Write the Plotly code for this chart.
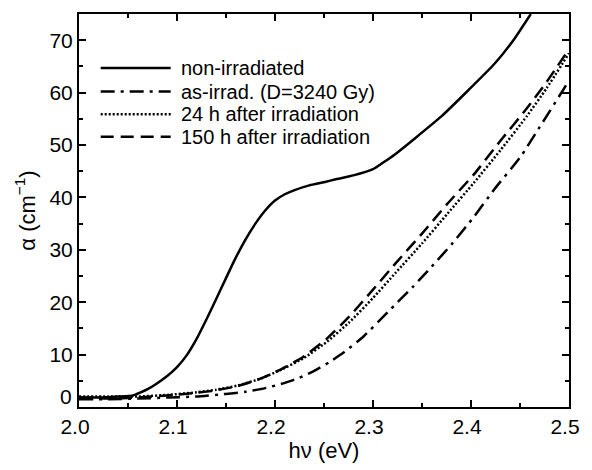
import plotly.graph_objects as go

# ---- data ----
x_non = [2.0, 2.02, 2.04, 2.055, 2.063, 2.07, 2.078, 2.09, 2.10, 2.11, 2.12, 2.13,
         2.14, 2.15, 2.16, 2.17, 2.18, 2.19, 2.20, 2.21, 2.22, 2.235,
         2.25, 2.263, 2.28, 2.30, 2.31, 2.323, 2.343, 2.37, 2.397, 2.424, 2.444, 2.461]
y_non = [1.8, 1.8, 2.0, 2.2, 2.8, 3.4, 4.3, 5.9, 7.6, 9.9, 13.0, 16.7,
         20.6, 24.6, 28.5, 32.0, 35.0, 37.5, 39.4, 40.6, 41.4, 42.3,
         42.9, 43.5, 44.2, 45.4, 46.6, 48.3, 51.3, 55.5, 60.4, 65.5, 70.2, 75.0]

x_as = [2.0, 2.03, 2.06, 2.09, 2.12, 2.15, 2.17, 2.19, 2.21, 2.225, 2.24, 2.255,
        2.27, 2.29, 2.316, 2.34, 2.356, 2.38, 2.403, 2.424, 2.45, 2.47, 2.494, 2.5]
y_as = [1.5, 1.5, 1.6, 1.8, 2.0, 2.5, 2.9, 3.6, 4.6, 5.6, 6.9, 8.5,
        10.4, 13.4, 18.3, 22.8, 26.0, 31.0, 36.3, 41.6, 47.6, 53.4, 60.5, 62.3]

x_24 = [2.0, 2.03, 2.06, 2.09, 2.12, 2.14, 2.162, 2.185, 2.205, 2.229, 2.252, 2.276,
        2.30, 2.323, 2.35, 2.376, 2.403, 2.43, 2.457, 2.477, 2.5]
y_24 = [2.0, 2.0, 2.0, 2.3, 2.8, 3.3, 4.1, 5.4, 7.0, 9.3, 12.3, 16.2,
        20.8, 25.6, 31.2, 36.9, 42.8, 49.0, 55.5, 60.8, 67.5]

x_150 = [2.0, 2.03, 2.06, 2.09, 2.12, 2.14, 2.162, 2.185, 2.205, 2.229, 2.252, 2.276,
         2.30, 2.323, 2.35, 2.376, 2.403, 2.43, 2.457, 2.477, 2.5]
y_150 = [1.8, 1.6, 1.8, 2.2, 2.7, 3.2, 4.0, 5.4, 7.1, 9.6, 12.9, 17.3,
         22.4, 27.4, 33.1, 38.8, 44.4, 50.8, 57.0, 62.0, 68.3]

labels = ["non-irradiated", "as-irrad. (D=3240 Gy)",
          "24 h after irradiation", "150 h after irradiation"]
dashes = ["solid", "14px,6px,3px,6px", "2px,2px", "13px,7px"]
x_ticks = [2.0, 2.1, 2.2, 2.3, 2.4, 2.5]
y_ticks = [10, 20, 30, 40, 50, 60, 70]

FONT = "Liberation Sans, Arial, sans-serif"
W, H = 592, 470
ML, MR, MT, MB = 79, 16, 13, 57

fig = go.Figure()
for xs, ys, name, dash in zip([x_non, x_as, x_24, x_150],
                              [y_non, y_as, y_24, y_150], labels, dashes):
    fig.add_trace(go.Scatter(x=xs, y=ys, mode="lines", name=name,
                             line=dict(color="black", width=2.5, dash=dash,
                                       shape="spline", smoothing=0.5),
                             showlegend=False))

# manual legend (paper coordinates)
pw, ph = W - ML - MR, H - MT - MB
def px_x(p):
    return (p - ML) / pw
def px_y(p):
    return 1 - (p - MT) / ph

rows = [68, 92, 115, 138]
for r, name, dash in zip(rows, labels, dashes):
    fig.add_shape(type="line", xref="paper", yref="paper",
                  x0=px_x(101), x1=px_x(172), y0=px_y(r), y1=px_y(r),
                  line=dict(color="black", width=2.5, dash=dash))
    fig.add_annotation(xref="paper", yref="paper", x=px_x(180), y=px_y(r),
                       text=name, showarrow=False, xanchor="left", yanchor="middle",
                       font=dict(family=FONT, size=20, color="black"))

# raised "0" label at the origin
fig.add_annotation(xref="paper", yref="y", x=0, y=0, text="0", showarrow=False,
                   xanchor="right", yanchor="middle", xshift=-5, yshift=11,
                   font=dict(family=FONT, size=21, color="black"))

axis_common = dict(showline=True, linecolor="black", linewidth=2, mirror="allticks",
                   ticks="inside", ticklen=7, tickwidth=1.5, tickcolor="black",
                   showgrid=False, zeroline=False,
                   tickfont=dict(family=FONT, size=21, color="black"))

fig.update_xaxes(range=[2.0, 2.5], tickvals=x_ticks, tickformat=".1f",
                 ticklabelshift=-4,
                 minor=dict(dtick=0.05, tick0=2.0, ticks="inside", ticklen=4,
                            tickwidth=1.5, tickcolor="black"),
                 title=dict(text="hν (eV)", font=dict(family=FONT, size=22, color="black"),
                            standoff=4),
                 **axis_common)
fig.update_yaxes(range=[0, 75], tickvals=y_ticks,
                 minor=dict(dtick=5, tick0=0, ticks="inside", ticklen=4,
                            tickwidth=1.5, tickcolor="black"),
                 title=dict(text="α (cm<sup>−1</sup>)",
                            font=dict(family=FONT, size=22, color="black"), standoff=8),
                 **axis_common)

fig.update_layout(width=W, height=H, margin=dict(l=ML, r=MR, t=MT, b=MB),
                  paper_bgcolor="white", plot_bgcolor="white", showlegend=False)

fig.write_html("out.html", config={"displayModeBar": False},
               post_script="document.body.style.margin='0';"
                           "document.body.style.overflow='hidden';")
